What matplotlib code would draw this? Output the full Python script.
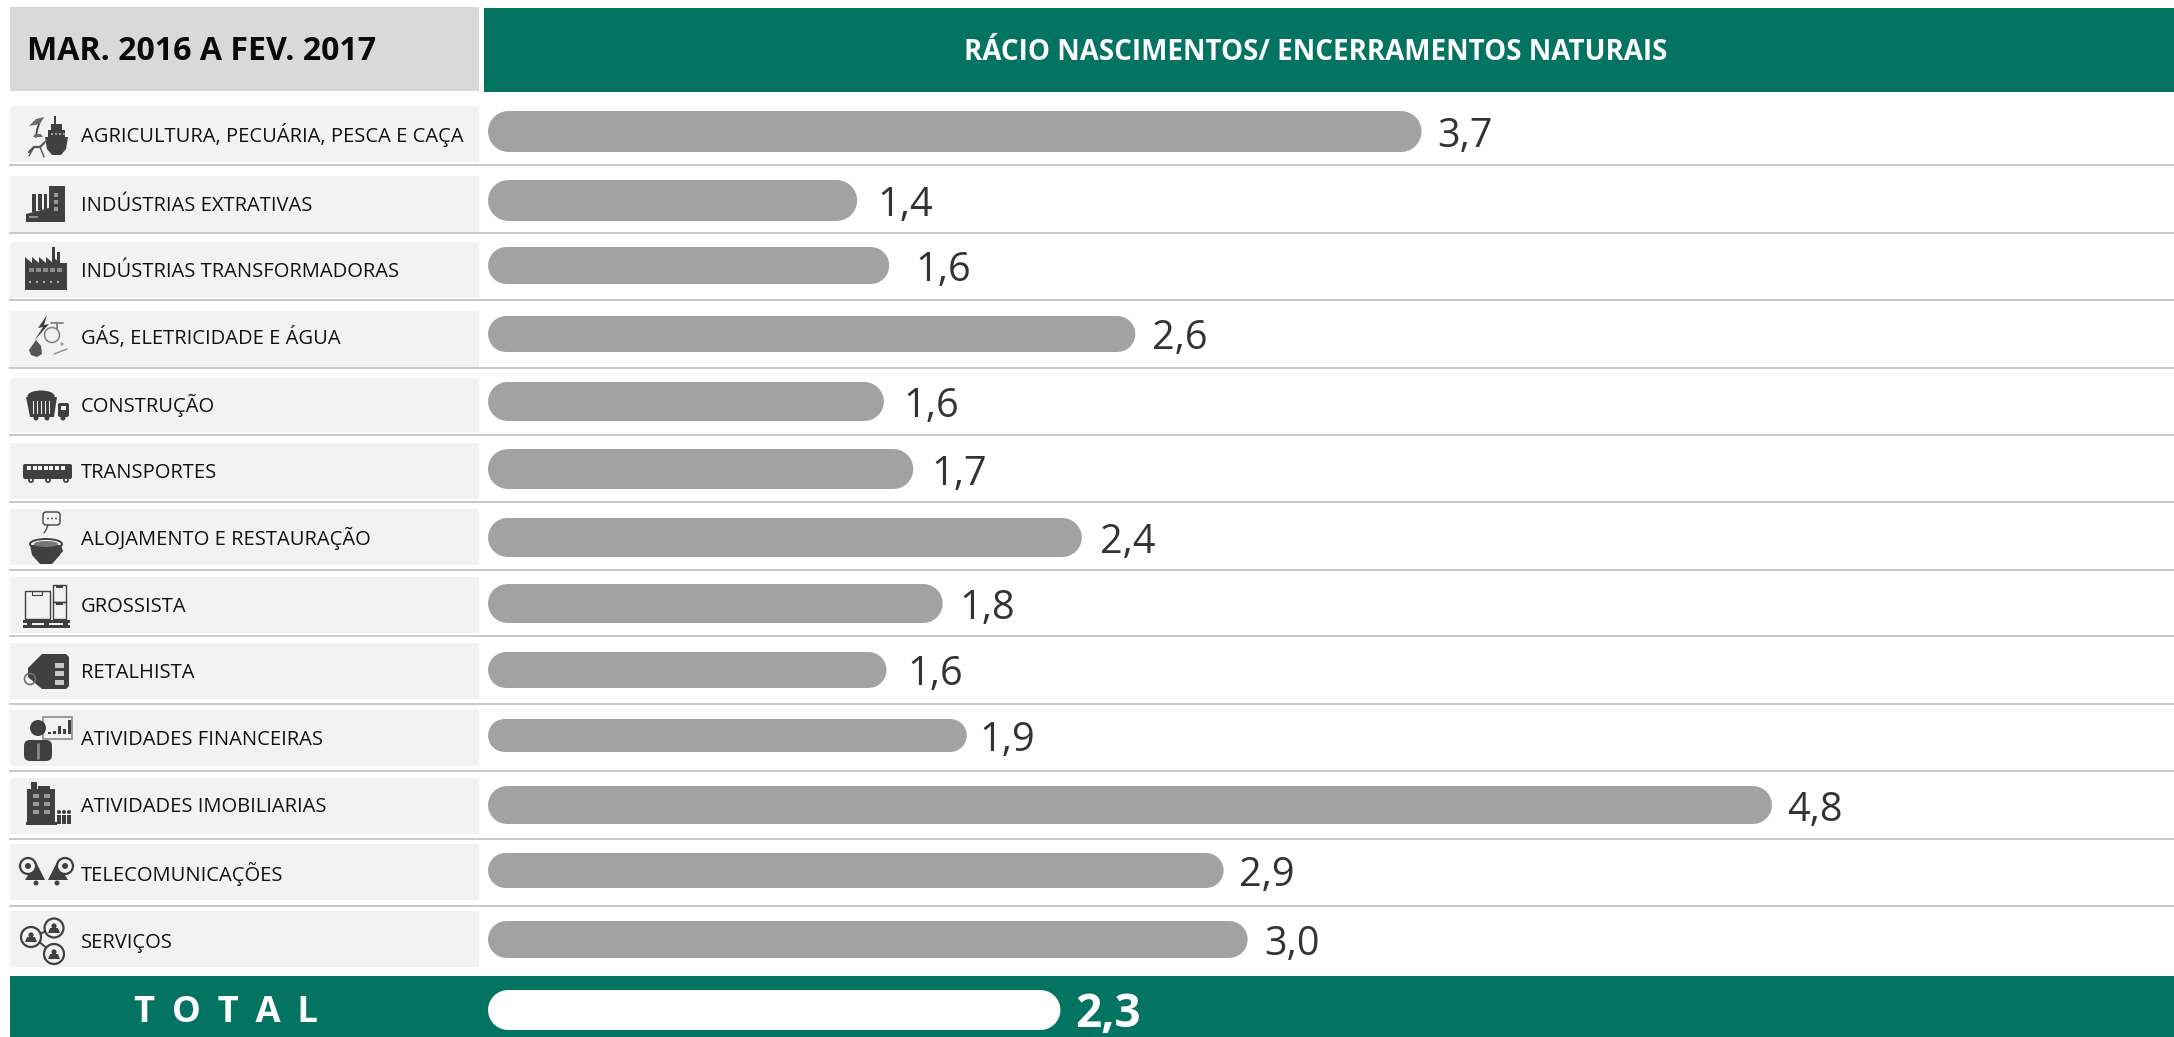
import matplotlib
matplotlib.use("Agg")
import matplotlib.pyplot as plt
from matplotlib.patches import Rectangle, Polygon, Circle, Ellipse, FancyBboxPatch

W, H = 2174, 1037
GREEN = "#037362"
BAR = "#a2a2a2"
DARK = "#404040"

plt.rcParams["font.family"] = ["Open Sans", "DejaVu Sans"]

# data
categories = [
    "AGRICULTURA, PECUÁRIA, PESCA E CAÇA", "INDÚSTRIAS EXTRATIVAS", "INDÚSTRIAS TRANSFORMADORAS",
    "GÁS, ELETRICIDADE E ÁGUA", "CONSTRUÇÃO", "TRANSPORTES", "ALOJAMENTO E RESTAURAÇÃO",
    "GROSSISTA", "RETALHISTA", "ATIVIDADES FINANCEIRAS", "ATIVIDADES IMOBILIARIAS",
    "TELECOMUNICAÇÕES", "SERVIÇOS",
]
value_labels = ["3,7", "1,4", "1,6", "2,6", "1,6", "1,7", "2,4", "1,8", "1,6", "1,9", "4,8", "2,9", "3,0"]
# bar lengths as drawn in the picture (they do not follow the printed value exactly)
bar_lengths = [3.49, 1.38, 1.50, 2.42, 1.48, 1.59, 2.22, 1.70, 1.49, 1.79, 4.80, 2.75, 2.84]
total_label = "2,3"
total_length = 2.14
left_title = "MAR. 2016 A FEV. 2017"
right_title = "RÁCIO NASCIMENTOS/ ENCERRAMENTOS NATURAIS"

# layout, pixels
row_tops = [106, 176, 242, 311, 378, 443, 509, 577, 643, 710, 778, 844, 911]
row_bots = [162, 232, 298, 367, 432, 499, 565, 633, 699, 766, 834, 900, 967]
row_baselines = [142, 211, 277, 344, 412, 478, 545, 612, 678, 745, 812, 881, 948]
sep_ys = [165, 233, 300, 368, 435, 502, 570, 636, 704, 771, 839, 906]
bar_tops = [111, 180, 247, 316, 382, 449, 518, 584, 652, 719, 786, 853, 921]
bar_bots = [152, 221, 284, 352, 421, 489, 557, 623, 688, 752, 824, 888, 958]
label_gaps = [16, 20, 26, 17, 19, 18, 18, 17, 21, 13, 15, 15, 17]
X0 = 488
PX_PER_UNIT = 267.5

fig = plt.figure(figsize=(W / 100, H / 100), dpi=100)
ax = fig.add_axes([0, 0, 1, 1])
ax.set_xlim(0, W)
ax.set_ylim(H, 0)
ax.axis("off")


def rect(x, y, w, h, c=DARK, z=3, ec="none", lw=0):
    ax.add_patch(Rectangle((x, y), w, h, fc=c, ec=ec, lw=lw, zorder=z))


def poly(pts, c=DARK, z=3):
    ax.add_patch(Polygon(pts, closed=True, fc=c, ec="none", zorder=z))


def circ(x, y, r, c=DARK, z=3, ec="none", lw=0):
    ax.add_patch(Circle((x, y), r, fc=c, ec=ec, lw=lw, zorder=z))


def line(xs, ys, lw=1.2, c=DARK, z=3):
    ax.plot(xs, ys, color=c, lw=lw, zorder=z, solid_capstyle="round")


def rbox(x, y, w, h, r, c=DARK, z=3, ec="none", lw=0):
    ax.add_patch(FancyBboxPatch((x + r, y + r), w - 2 * r, h - 2 * r, boxstyle=f"round,pad={r}",
                                fc=c, ec=ec, lw=lw, zorder=z))


BG = "#f2f2f2"


def icon_agri():
    poly([(45, 137), (68, 137), (66, 149), (61, 155), (52, 155), (47, 149)])
    rect(48, 130, 17, 7)
    rect(51, 124, 11, 6)
    rect(54, 116, 2, 8)
    for x in (51, 55, 59, 63):
        rect(x, 133, 2, 1.5, "#a0a0a0", 4)
    line([36, 37, 39], [137, 130, 124], 1.3)
    poly([(29, 126), (36, 119), (44, 117), (40, 124)], "#6a6a6a")
    poly([(33, 137), (43, 137), (41, 134), (35, 134)], "#6a6a6a")
    line([29, 34, 40, 44], [152, 147, 147, 143], 1.6, "#555555")
    line([34, 29], [147, 156], 1.0, "#555555")
    line([40, 44], [147, 157], 1.0, "#555555")
    line([44, 47], [143, 140], 1.0, "#555555")


def icon_extr():
    poly([(26, 222), (65, 222), (65, 186), (49, 186), (49, 208), (26, 214)])
    rect(32, 194, 4, 18)
    rect(38, 194, 4, 16)
    rect(44, 194, 3, 16)
    for y in (193, 200, 207):
        rect(54, y, 4, 4, "#9a9a9a", 4)
    rect(29, 216, 9, 2, "#909090", 4)


def icon_transf():
    rect(25, 263, 42, 27)
    for i in range(5):
        poly([(25 + i * 7, 263), (25 + i * 7, 257), (32 + i * 7, 263)])
    rect(52, 247, 3, 16)
    rect(57, 252, 3, 11)
    for i in range(5):
        rect(29 + i * 7, 268, 5, 4, "#8a8a8a", 4)
        rect(29 + i * 7, 281, 2, 2, "#b0b0b0", 4)


def icon_gas():
    poly([(47, 315), (38, 328), (43, 327), (34, 341), (49, 324), (44, 325)])
    poly([(36, 340), (41, 346), (42, 354), (37, 357), (31, 355), (29, 350)], "#555555")
    ax.add_patch(Ellipse((52, 335), 15, 15, fc="none", ec="#808080", lw=1.1, zorder=3))
    line([51, 63], [323, 323], 1.3, "#808080")
    line([57, 57], [323, 329], 1.3, "#808080")
    line([54, 67], [354, 349], 1.0, "#909090")
    circ(62, 344, 1.5, "#909090")


def icon_constr():
    poly([(26, 397), (57, 397), (54, 417), (30, 417)])
    ax.add_patch(Ellipse((41, 396), 27, 11, fc=DARK, ec="none", zorder=3))
    for i in range(5):
        rect(33 + i * 4, 401, 1.3, 13, BG, 4)
    rbox(58, 403, 11, 14, 2)
    rect(61, 406, 5, 4, BG, 4)
    for x in (36, 47, 63):
        circ(x, 418, 2.5)


def icon_bus():
    rbox(23, 464, 49, 15, 2)
    for i in range(7):
        rect(27 + i * 5.6, 466, 4, 3.5, BG, 4)
    for x in (31, 48, 66):
        circ(x, 480, 3)
        circ(x, 480, 1.2, BG, 4)


def icon_cup():
    rbox(43, 512, 17, 13, 3, "none", 3, DARK, 1)
    for x in (48, 52, 56):
        circ(x, 518.5, 0.9)
    line([48, 46, 44], [525, 530, 533], 0.9)
    ax.add_patch(Ellipse((46, 544), 32, 10, fc=BG, ec=DARK, lw=1.4, zorder=3))
    poly([(30, 545), (62, 545), (60, 555), (52, 564), (40, 564), (32, 555)])
    ax.add_patch(Ellipse((46, 544), 24, 6, fc="#777777", ec="none", zorder=4))
    line([61, 62, 58], [548, 551, 555], 1.4)


def icon_pallet():
    rect(25, 591, 25, 28, "none", 3, DARK, 1)
    rect(32, 591, 10, 4, "none", 3, DARK, 0.8)
    rect(53, 585, 13, 17, "none", 3, DARK, 1)
    rect(53, 602, 13, 17, "none", 3, DARK, 1)
    rect(56, 585, 7, 3, DARK)
    rect(56, 602, 7, 3, DARK)
    rect(23, 620, 47, 2.5)
    rect(23, 625, 47, 2.5)
    for x in (27, 44, 63):
        rect(x, 621, 5, 6)


def icon_tag():
    poly([(42, 654), (66, 654), (69, 657), (69, 686), (66, 689), (42, 689), (28, 677), (28, 668)])
    for y in (663, 671, 680):
        rect(55, y, 9, 4.5, "#c8c8c8", 4)
    circ(30, 679, 5.5, "none", 5, "#707070", 1.2)


def icon_fin():
    rect(43, 717, 29, 22, BG, 3, "#8a8a8a", 1.2)
    for x, h in ((48, 2), (53, 3), (58, 8), (63, 5), (68, 14)):
        rect(x, 734 - h, 3, h)
    circ(38, 728, 8)
    rbox(24, 740, 28, 21, 6)
    line([38, 38], [744, 758], 2, "#888888", 4)


def icon_imob():
    rect(27, 789, 28, 33)
    rect(26, 822, 31, 3)
    rect(31, 782, 6, 8)
    rect(38, 786, 12, 4)
    for x in (33, 44):
        for y in (794, 802, 810):
            rect(x, y, 6, 4, "#9a9a9a", 4)
    for x in (59, 64, 69):
        circ(x, 812, 2)
        rect(x - 2, 815, 4, 9)


def icon_tel():
    for x0, s in ((36, -1), (57, 1)):
        poly([(x0, 862), (x0 + s * 11, 880), (x0 - s * 9, 880)])
        circ(x0 + s * 8, 866, 8, BG, 4, DARK, 1.6)
        circ(x0 + s * 8, 866, 3, DARK, 5)
        circ(x0, 883, 2.5)


def icon_serv():
    line([33, 53], [937, 928], 1.4)
    line([33, 53], [937, 953], 1.4)
    for x, y, r in ((31, 937, 10), (54, 928, 9.5), (54, 954, 10)):
        circ(x, y, r, BG, 4, DARK, 1.6)
        circ(x, y - 2, 2.6, DARK, 5)
        poly([(x - 6, y + 5), (x + 6, y + 5), (x + 4, y), (x - 4, y)], DARK, 5)


icons = [icon_agri, icon_extr, icon_transf, icon_gas, icon_constr, icon_bus, icon_cup,
         icon_pallet, icon_tag, icon_fin, icon_imob, icon_tel, icon_serv]

# headers
rect(10, 7, 469, 84, "#d9d9d9", 1)
rect(484, 8, W - 484, 84, GREEN, 1)
ax.text(27, 60, left_title, fontsize=23.1, fontweight="bold", color="#0a0a0a", va="baseline", ha="left")
ax.text(1316, 60, right_title, fontsize=20, fontweight="bold", color="white", va="baseline", ha="center")

# separators
for y in sep_ys:
    ax.plot([10, W], [y, y], color="#c8c8c8", lw=1.4, zorder=1)

# rows
for i, name in enumerate(categories):
    rect(10, row_tops[i], 469, row_bots[i] - row_tops[i], BG, 2)
    ax.text(81, row_baselines[i], name, fontsize=14.5, color="#111111", va="baseline", ha="left", zorder=3)
    icons[i]()

# total band
rect(10, 976, W - 10, H - 976, GREEN, 1)
ax.text(226, 1022, "T \u2009O \u2009T \u2009A \u2009L", fontsize=26.2, fontweight="bold", color="white", va="baseline", ha="center")

# bars in their own axes, x is the value scale
bx = fig.add_axes([X0 / W, 0, (W - X0) / W, 1])
bx.set_xlim(0, (W - X0) / PX_PER_UNIT)
bx.set_ylim(H, 0)
bx.axis("off")
bx.patch.set_alpha(0)


def round_bar(length, top, bot, color):
    thick = bot - top
    cap = thick / 2 / PX_PER_UNIT
    bx.plot([cap, length - cap], [(top + bot) / 2] * 2, color=color, lw=thick * 0.72,
            solid_capstyle="round", zorder=3, snap=False)


for i, length in enumerate(bar_lengths):
    round_bar(length, bar_tops[i], bar_bots[i], BAR)
    bx.text(length + label_gaps[i] / PX_PER_UNIT, (bar_tops[i] + bar_bots[i]) / 2 + 15.5, value_labels[i],
            fontsize=28.5, color="#333333", va="baseline", ha="left")

round_bar(total_length, 990, 1030, "white")
bx.text(total_length + 15 / PX_PER_UNIT, 1027, total_label, fontsize=33, fontweight="bold",
        color="white", va="baseline", ha="left")

fig.savefig("out.png", dpi=100)
